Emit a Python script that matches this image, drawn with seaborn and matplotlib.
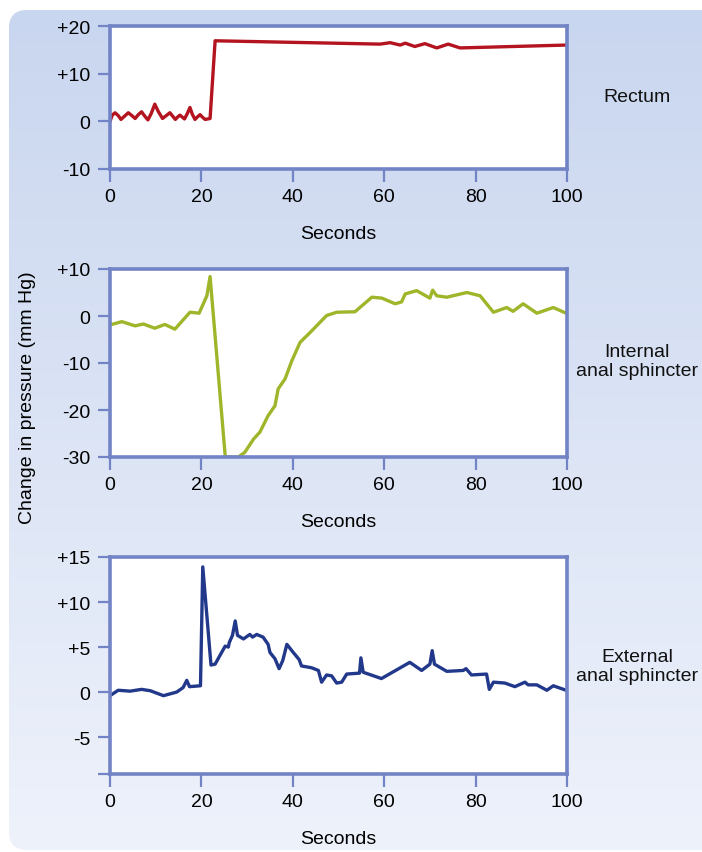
#!/usr/bin/env python3
"""
Pressure traces for rectum, internal and external anal sphincter
(defecation reflex figure). Three stacked panels on a light blue card.
"""

import numpy as np
import pandas as pd
import matplotlib
matplotlib.use('Agg')
import matplotlib.pyplot as plt
from matplotlib.patches import FancyBboxPatch
import seaborn as sns

# --- data (seconds, mm Hg) ---
rectum_t = [0, 0.5, 1.1, 1.8, 2.4, 3.2, 4.0, 4.8, 5.5, 6.2, 6.9, 7.6,
            8.3, 9.0, 9.8, 10.6, 11.5, 12.3, 13.1, 13.7, 14.3, 14.8,
            15.3, 15.8, 16.3, 16.9, 17.5, 18.0, 18.6, 19.1, 19.7, 20.2,
            20.8, 21.4, 21.9, 23.0, 59.1, 61.3, 63.5,
            64.6, 66.7, 68.9, 71.5, 74.0, 76.6, 99.8]
rectum_v = [0.0, 1.3, 1.8, 1.2, 0.4, 1.1, 1.8, 1.2, 0.6, 1.4, 2.0, 1.1,
            0.3, 1.6, 3.6, 2.0, 0.6, 1.2, 1.8, 1.1, 0.4, 0.9,
            1.3, 0.9, 0.5, 1.6, 2.9, 1.5, 0.4, 0.9, 1.4, 0.9,
            0.4, 0.5, 0.6, 16.9, 16.2, 16.5, 16.0,
            16.4, 15.7, 16.3, 15.4, 16.2, 15.4, 16.0]

internal_t = [0, 2.6, 5.5, 7.3, 9.8, 12.0, 14.2, 17.5, 19.5, 21.2, 21.9,
              25.2, 25.5, 28.1, 29.5, 31.4, 32.8, 34.6, 36.1, 36.8, 38.3,
              39.8, 41.6, 43.8, 47.4, 49.6, 53.6, 57.3, 59.5, 62.4, 63.8,
              64.6, 67.1, 70.0, 70.6, 71.5, 73.7, 78.1, 81.0, 83.9, 86.8,
              88.2, 90.4, 93.4, 97.0, 99.8]
internal_v = [-1.9, -1.2, -2.1, -1.7, -2.6, -1.8, -2.8, 0.8, 0.6, 4.3, 8.4,
              -29.7, -30.0, -30.0, -29.0, -26.2, -24.7, -21.2, -19.1, -15.5, -13.4,
              -9.5, -5.6, -3.5, 0.1, 0.8, 0.9, 4.0, 3.8, 2.6, 3.0,
              4.7, 5.4, 3.8, 5.5, 4.3, 4.0, 5.0, 4.3, 0.8, 1.8,
              1.0, 2.6, 0.6, 1.8, 0.6]

external_t = [0, 1.8, 4.4, 6.9, 8.8, 11.7, 14.6, 16.0, 16.8, 17.4, 19.8,
              20.3, 22.1, 23.0, 25.2, 25.9, 26.1, 26.8, 27.4, 27.9, 29.2,
              30.6, 31.2, 32.1, 33.5, 34.6, 35.0, 36.1, 37.0, 37.8, 38.7,
              40.1, 41.4, 41.9, 44.1, 45.6, 46.3, 47.4, 48.5, 49.6, 50.7,
              51.8, 54.6, 54.9, 55.4, 59.4, 65.6, 68.2, 70.0, 70.5, 71.0,
              73.7, 77.3, 77.9, 79.1, 82.4, 83.0, 83.9, 86.4, 88.6, 90.8,
              91.5, 93.4, 95.6, 97.0, 99.8]
external_v = [-0.4, 0.2, 0.1, 0.3, 0.15, -0.4, 0.0, 0.5, 1.3, 0.6, 0.7,
              13.9, 3.0, 3.1, 5.1, 5.0, 5.5, 6.3, 7.9, 6.3, 5.9,
              6.4, 6.1, 6.4, 6.1, 5.3, 4.4, 3.7, 2.6, 3.5, 5.3,
              4.4, 3.6, 2.9, 2.7, 2.4, 1.1, 1.9, 1.8, 1.0, 1.1,
              2.0, 2.1, 3.8, 2.2, 1.5, 3.3, 2.4, 3.1, 4.6, 3.1,
              2.3, 2.4, 2.6, 1.9, 2.0, 0.3, 1.1, 1.0, 0.6, 1.1,
              0.8, 0.8, 0.2, 0.7, 0.2]

panel_names = ['Rectum', 'Internal\nanal sphincter', 'External\nanal sphincter']
line_colors = ['#b3141f', '#9fb52a', '#22388a']
x_ticks = [0, 20, 40, 60, 80, 100]
y_ticks = [[-10, 0, 10, 20], [-30, -20, -10, 0, 10], [-9.1, -5, 0, 5, 10, 15]]
y_ticklabels = [['-10', '0', '+10', '+20'],
                ['-30', '-20', '-10', '0', '+10'],
                ['', '-5', '0', '+5', '+10', '+15']]
y_limits = [(-10, 20), (-30, 10), (-9.1, 15)]

AXIS_BLUE = '#7384c6'
FS = 14

sns.set_theme(style='white')
plt.rcParams['font.family'] = ['Liberation Sans', 'DejaVu Sans']

W, H = 702, 853
fig = plt.figure(figsize=(W / 100, H / 100), dpi=100)
fig.patch.set_facecolor('white')

# background card with vertical gradient
bg = fig.add_axes([0, 0, 1, 1], zorder=-10)
bg.set_xlim(0, W)
bg.set_ylim(H, 0)
bg.axis('off')
grad = np.linspace(0, 1, 256).reshape(-1, 1)
top = np.array([0xc9, 0xd6, 0xef]) / 255
bot = np.array([0xee, 0xf2, 0xfb]) / 255
img = top + (bot - top) * grad[..., None]
card = FancyBboxPatch((9, 11), W + 30 - 9, 851 - 11,
                      boxstyle='round,pad=0,rounding_size=18',
                      facecolor='none', edgecolor='none')
bg.add_patch(card)
im = bg.imshow(img, extent=[9, W + 30, 851, 11], aspect='auto', zorder=0)
im.set_clip_path(card)

# axes boxes in pixel coordinates: (top, bottom)
boxes = [(27, 170), (270, 458), (558, 775)]
x0, x1 = 110, 567
traces = [(rectum_t, rectum_v), (internal_t, internal_v), (external_t, external_v)]
label_y = [97, 362, 667]

for i, ((ptop, pbot), (t, v)) in enumerate(zip(boxes, traces)):
    ax = fig.add_axes([x0 / W, (H - pbot) / H, (x1 - x0) / W, (pbot - ptop) / H])
    ax.set_facecolor('white')
    df = pd.DataFrame({'t': t, 'v': v})
    sns.lineplot(data=df, x='t', y='v', ax=ax, color=line_colors[i],
                 linewidth=2.4, sort=False, estimator=None)
    ax.set_xlim(0, 100)
    ax.set_ylim(*y_limits[i])
    ax.set_xticks(x_ticks)
    ax.set_xticklabels([str(x) for x in x_ticks])
    ax.set_yticks(y_ticks[i])
    ax.set_yticklabels(y_ticklabels[i])
    ax.set_xlabel('Seconds', fontsize=FS, color='black', labelpad=14)
    ax.set_ylabel('')
    for sp in ax.spines.values():
        sp.set_color(AXIS_BLUE)
        sp.set_linewidth(2.6)
    ax.tick_params(axis='both', which='both', direction='out', length=9,
                   width=1.6, color=AXIS_BLUE, labelsize=FS,
                   labelcolor='black', pad=5, bottom=True, left=True)
    fig.text(637 / W, (H - label_y[i]) / H, panel_names[i], ha='center',
             va='center', fontsize=FS, color='#111111', linespacing=1.15)

fig.text(28 / W, (H - 398) / H, 'Change in pressure (mm Hg)', rotation=90,
         ha='center', va='center', fontsize=FS, color='black')

fig.savefig('out.png', dpi=100, facecolor=fig.get_facecolor())
